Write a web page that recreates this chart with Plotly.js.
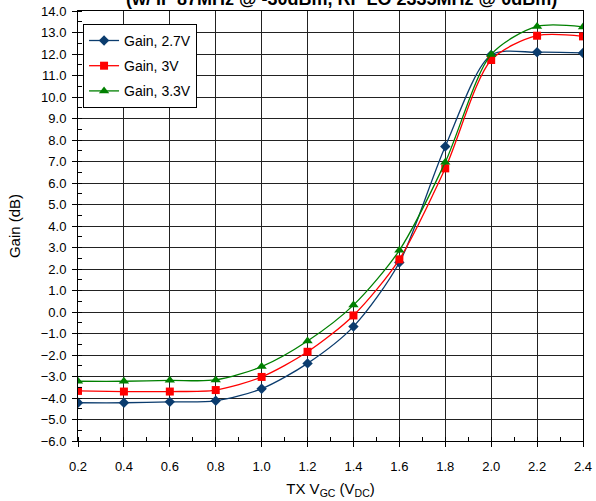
<!DOCTYPE html>
<html>
<head>
<meta charset="utf-8">
<script src="https://cdn.plot.ly/plotly-3.0.1.min.js"></script>
<style>html,body{margin:0;padding:0;background:#fff;}#chart{width:596px;height:501px;}</style>
</head>
<body>
<div id="chart"></div>
<script>
const vgc = [0.2, 0.4, 0.6, 0.8, 1.0, 1.2, 1.4, 1.6, 1.8, 2.0, 2.2, 2.4];
const gain27 = [-4.22, -4.22, -4.18, -4.13, -3.57, -2.39, -0.68, 2.3, 7.7, 11.95, 12.08, 12.05];
const gain30 = [-3.67, -3.7, -3.7, -3.63, -3.02, -1.85, -0.16, 2.45, 6.68, 11.72, 12.85, 12.82];
const gain33 = [-3.22, -3.22, -3.18, -3.16, -2.54, -1.35, 0.32, 2.87, 6.97, 11.98, 13.28, 13.26];
const seriesNames = ['Gain, 2.7V', 'Gain, 3V', 'Gain, 3.3V'];
const titleText = '(w/ IF 87MHz @ -30dBm, RF LO 2335MHz @ 0dBm)';

const mk = (y, name, color, symbol, size, grp) => ({
  x: vgc, y: y, name: name, type: 'scatter', mode: 'lines+markers', legendgroup: grp,
  line: {color: color, width: 1.3, shape: 'spline', smoothing: 0.8},
  marker: {color: color, symbol: symbol, size: size}
});

const data = [
  mk(gain27, seriesNames[0], '#0b3c6e', 'diamond', 8, 'a'),
  mk(gain30, seriesNames[1], '#ff0000', 'square', 8, 'b'),
  mk(gain33, seriesNames[2], '#008000', 'triangle-up', 9, 'c')
];

const axisFont = {family: 'Arial, Liberation Sans, sans-serif', size: 13, color: '#000'};
const layout = {
  width: 596, height: 501,
  margin: {l: 78, r: 13, t: 11, b: 60},
  paper_bgcolor: '#fff', plot_bgcolor: '#fff',
  font: {family: 'Arial, Liberation Sans, sans-serif', color: '#000'},
  annotations: [{
    text: '<b>' + titleText + '</b>', xref: 'paper', yref: 'paper', x: 0.522, y: 1,
    xanchor: 'center', yanchor: 'bottom', yshift: 1, showarrow: false, borderpad: 0,
    font: {size: 18, color: '#000'}
  }],
  xaxis: {
    range: [0.2, 2.4], dtick: 0.2, tick0: 0.2, tickformat: '.1f',
    showgrid: true, gridcolor: '#222', gridwidth: 1,
    showline: true, linecolor: '#000', linewidth: 1, mirror: true,
    ticks: 'outside', ticklen: 5, tickcolor: '#000', ticklabelstandoff: 8,
    minor: {dtick: 0.1, ticks: 'inside', ticklen: 4, tickcolor: '#000', showgrid: false},
    tickfont: axisFont, zeroline: false,
    title: {text: 'TX V<sub>GC</sub> (V<sub>DC</sub>)', font: {size: 15}, standoff: 10}
  },
  yaxis: {
    range: [-6, 14], dtick: 1, tickformat: '.1f',
    showgrid: true, gridcolor: '#222', gridwidth: 1,
    showline: true, linecolor: '#000', linewidth: 1, mirror: true,
    ticks: 'outside', ticklen: 5, tickcolor: '#000', ticklabelstandoff: 3,
    minor: {dtick: 0.5, ticks: 'inside', ticklen: 4, tickcolor: '#000', showgrid: false},
    tickfont: axisFont, zeroline: false,
    title: {text: 'Gain (dB)', font: {size: 15}, standoff: 16}
  },
  showlegend: true,
  legend: {x: 0.01, y: 0.97, xanchor: 'left', yanchor: 'top', bgcolor: '#fff',
           bordercolor: '#000', borderwidth: 1, font: {size: 14}, tracegroupgap: 4}
};

Plotly.newPlot('chart', data, layout, {displayModeBar: false, staticPlot: true});
</script>
</body>
</html>
